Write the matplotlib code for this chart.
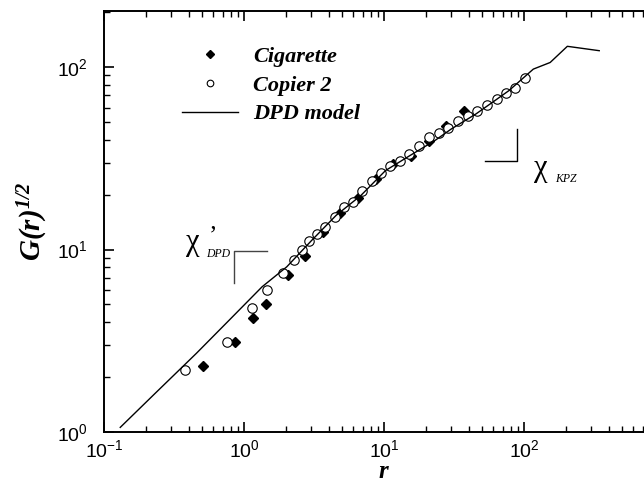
import numpy as np
import matplotlib.pyplot as plt
from matplotlib.legend_handler import HandlerLine2D

plt.rcParams['font.family'] = ['Liberation Sans', 'DejaVu Sans']
plt.rcParams['mathtext.fontset'] = 'custom'
plt.rcParams['mathtext.rm'] = 'Liberation Serif:bold:italic'
plt.rcParams['mathtext.it'] = 'Liberation Serif:bold:italic'
plt.rcParams['mathtext.bf'] = 'Liberation Serif:bold:italic'

# 数据
cig_r = [0.51, 0.853, 1.15, 1.44, 2.04, 2.71, 3.65, 4.82, 6.49, 8.67,
         11.5, 15.5, 20.8, 27.7, 36.9]
cig_g = [2.30, 3.10, 4.21, 5.03, 7.27, 9.23, 12.5, 15.9, 19.1, 24.4,
         29.3, 32.6, 39.2, 47.6, 57.3]

cop_r = [0.377, 0.75, 1.14, 1.46, 1.88, 2.27, 2.59, 2.90, 3.30, 3.78,
         4.44, 5.16, 5.94, 6.89, 8.11, 9.47, 11.0, 12.9, 15.1, 17.7,
         20.8, 24.4, 28.7, 33.8, 39.5, 46.1, 54.2, 63.4, 74.0, 86.5, 101]
cop_g = [2.19, 3.13, 4.78, 6.0, 7.46, 8.78, 10.0, 11.1, 12.1, 13.3,
         15.1, 17.1, 18.3, 20.9, 23.9, 26.2, 28.7, 30.6, 33.6, 37.0,
         41.3, 43.4, 46.4, 50.5, 54.0, 57.5, 61.7, 66.6, 71.8, 76.8, 86.7]

dpd_r = [0.130, 0.231, 0.455, 0.782, 1.34, 2.01, 3.02, 4.53, 6.81, 10.2,
         15.3, 23.0, 30.1, 45.2, 59.2, 77.6, 116, 153, 203, 343]
dpd_g = [1.06, 1.63, 2.70, 4.11, 6.25, 8.04, 11.2, 15.4, 19.8, 27.1,
         32.8, 39.6, 45.8, 55.4, 64.1, 74.3, 97.5, 106, 130, 123]

# 斜率示意线
dpd_tri_r = [1.45, 0.844, 0.844]
dpd_tri_g = [9.85, 9.85, 6.55]
kpz_tri_r = [52.4, 88.3, 88.3]
kpz_tri_g = [30.7, 30.7, 45.7]


class MarkerAtEnd(HandlerLine2D):
    # 图例中把标记放在线段右端
    def get_xdata(self, legend, xdescent, ydescent, width, height, fontsize):
        xdata, xm = super().get_xdata(legend, xdescent, ydescent, width, height, fontsize)
        return xdata, np.full_like(xm, -xdescent + width)


fig = plt.figure(figsize=(6.44, 4.82), dpi=100)
ax = fig.add_axes([104.3 / 644, 50 / 482, 560 / 644, 421 / 482])

ax.plot(cig_r, cig_g, 'D', color='black', ms=5.5, label='Cigarette')
ax.plot(cop_r, cop_g, 'o', mfc='white', mec='black', mew=0.8, ms=6.8, label='Copier 2')
ax.plot(dpd_r, dpd_g, '-', color='black', lw=1.0, label='DPD model')

ax.plot(dpd_tri_r, dpd_tri_g, '-', color='#444444', lw=1.0)
ax.plot(kpz_tri_r, kpz_tri_g, '-', color='black', lw=1.0)

ax.set_xscale('log')
ax.set_yscale('log')
ax.set_xticks([0.1, 1, 10, 100])
ax.set_xlim(0.1, 1000)
ax.set_ylim(1, 203)

# 斜率标注
serif = 'Liberation Serif'
ax.text(0.430, 10.9, '\u03c7', fontsize=22, family=serif, ha='center', va='center')
ax.text(0.597, 11.8, '\u2019', fontsize=18, family=serif, ha='center', va='center')
ax.text(0.655, 9.4, 'DPD', fontsize=8.5, family=serif, style='italic', ha='center', va='center')
ax.text(131.6, 27.9, '\u03c7', fontsize=22, family=serif, ha='center', va='center')
ax.text(198.6, 24.4, 'KPZ', fontsize=8.5, family=serif, style='italic', ha='center', va='center')

ax.set_xlabel('$r$', fontsize=18, labelpad=-1)
ax.set_ylabel('$G(r)^{1/2}$', fontsize=21, labelpad=5)

for s in ax.spines.values():
    s.set_linewidth(1.4)
ax.tick_params(which='both', direction='in', top=True, right=True)
ax.tick_params(which='major', length=7, width=1.2, labelsize=14)
ax.tick_params(which='minor', length=4, width=1.0)
ax.tick_params(axis='y', which='major', pad=12)
ax.tick_params(axis='x', which='major', pad=5)

ax.legend(loc='upper left', bbox_to_anchor=(0.139, 0.916), frameon=False,
          borderpad=0, borderaxespad=0, handlelength=2.5, handletextpad=0.7,
          labelspacing=0.37, markerscale=0.7,
          prop={'family': serif, 'weight': 'bold', 'style': 'italic', 'size': 16},
          handler_map={plt.Line2D: MarkerAtEnd(numpoints=1)})

fig.savefig('out.png', dpi=100)
